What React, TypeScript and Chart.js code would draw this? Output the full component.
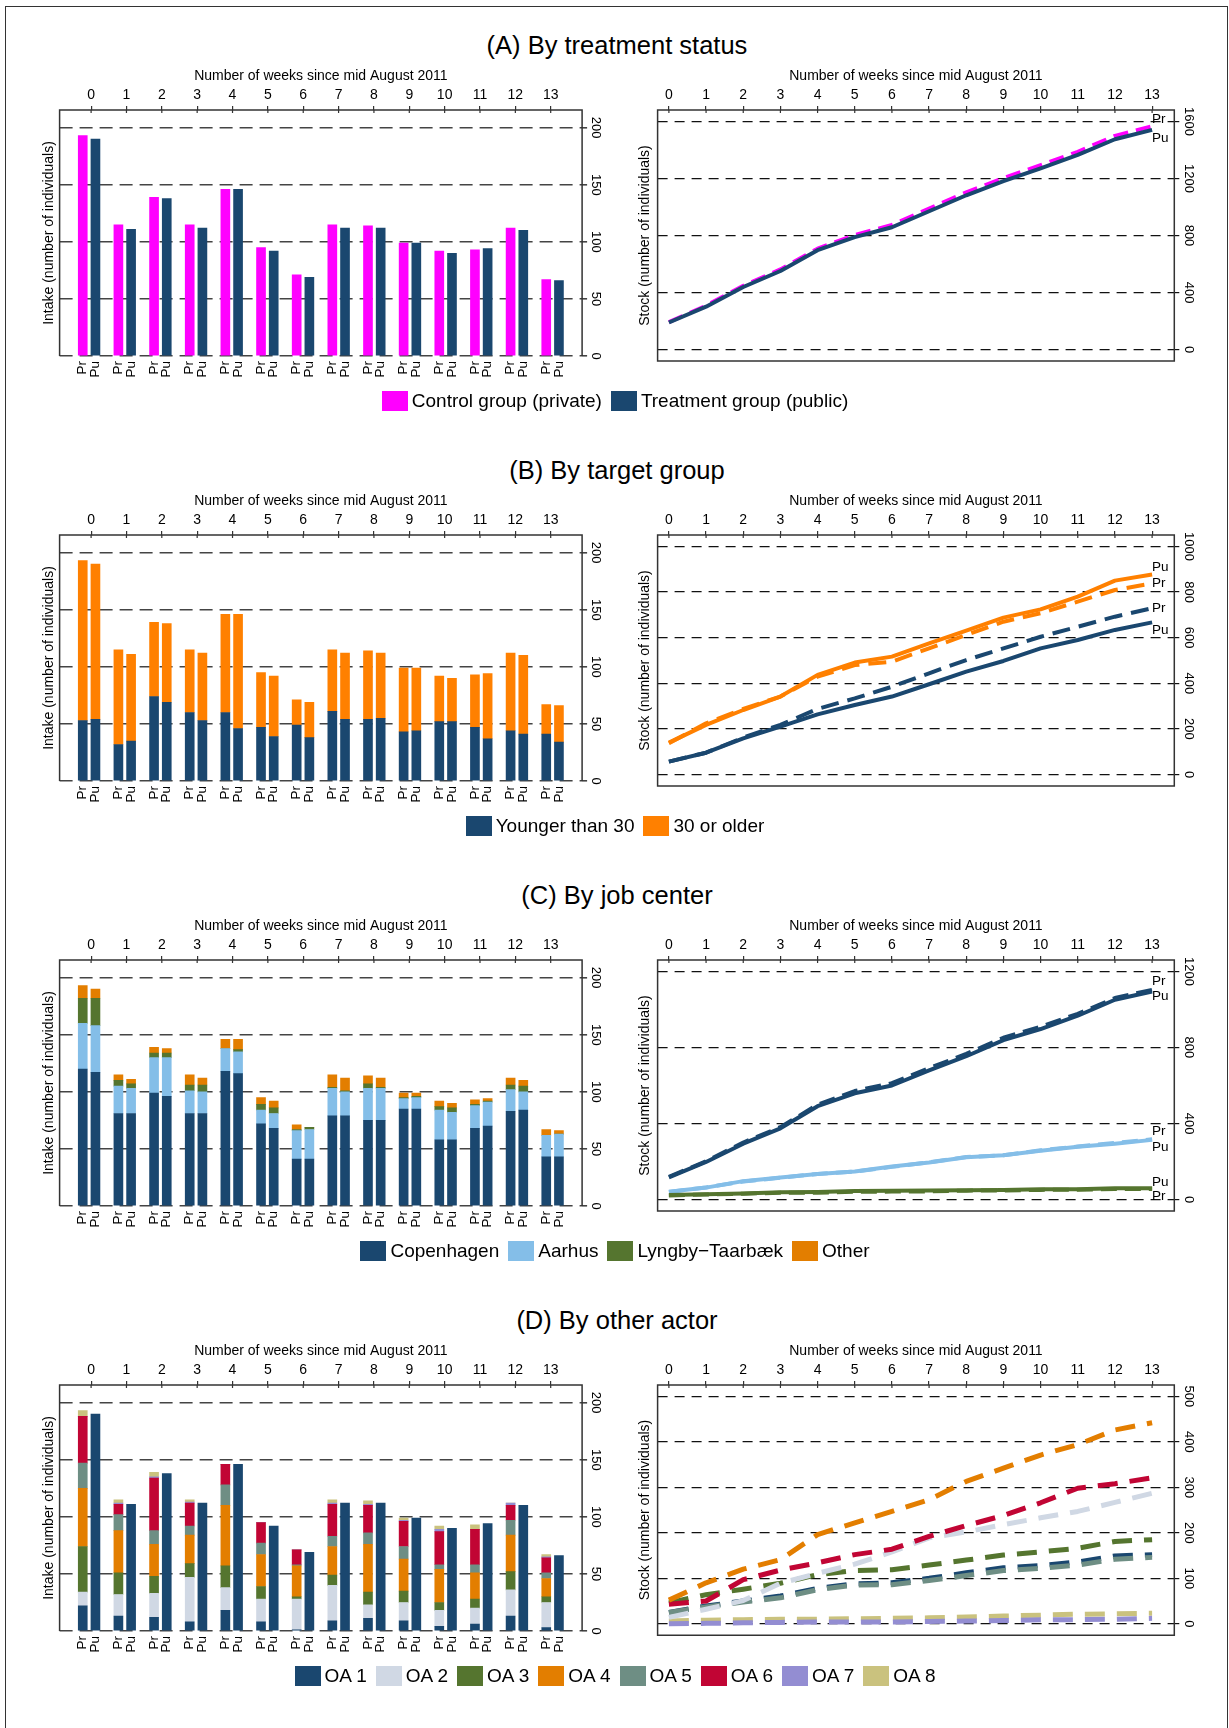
import React, { useEffect, useRef } from 'react';
import { Chart, registerables } from 'chart.js';

Chart.register(...registerables);

const FONT = "'Liberation Sans', Arial, Helvetica, sans-serif";
Chart.defaults.font.family = FONT;
Chart.defaults.color = '#000';

// ---------------- shared axis data ----------------
const WEEKS = [0, 1, 2, 3, 4, 5, 6, 7, 8, 9, 10, 11, 12, 13];
const GROUP_TICK_LABELS = ['Pr', 'Pu'];
const WEEK_AXIS_TITLE = 'Number of weeks since mid August 2011';
const INTAKE_AXIS_TITLE = 'Intake (number of individuals)';
const STOCK_AXIS_TITLE = 'Stock (number of individuals)';
const INTAKE_TICKS = [0, 50, 100, 150, 200];

// ---------------- colours ----------------
const MAGENTA = '#ff00ff';
const NAVY = '#1a476f';
const ORANGE = '#ff8000';
const LIGHT_BLUE = '#84bee8';
const GREEN = '#55752f';
const DK_ORANGE = '#e37e00';
const OA_COLORS = ['#1a476f', '#d0d8e4', '#55752f', '#e37e00', '#6e8e84', '#c10534', '#938dd2', '#cac27e'];

// ---------------- (A) by treatment status ----------------
const A_TITLE = '(A) By treatment status';
const A_LABELS = ['Control group (private)', 'Treatment group (public)'];
const A_INTAKE_PR = [193, 115, 139, 115, 146, 95, 71, 115, 114, 99, 92, 93, 112, 67];
const A_INTAKE_PU = [190, 111, 138, 112, 146, 92, 69, 112, 112, 99, 90, 94, 110, 66];
const A_STOCK_PR = [193, 308, 447, 562, 708, 803, 874, 989, 1103, 1202, 1294, 1387, 1499, 1566];
const A_STOCK_PU = [190, 301, 439, 551, 697, 789, 858, 970, 1082, 1181, 1271, 1365, 1475, 1541];
const A_STOCK_TICKS = [0, 400, 800, 1200, 1600];

// ---------------- (B) by target group ----------------
const B_TITLE = '(B) By target group';
const B_LABELS = ['Younger than 30', '30 or older'];
const B_YOUNG_PR = [53, 32, 74, 60, 60, 47, 49, 61, 54, 43, 52, 47, 44, 41];
const B_OLD_PR = [140, 83, 65, 55, 86, 48, 22, 54, 60, 56, 40, 46, 68, 26];
const B_YOUNG_PU = [54, 35, 69, 53, 46, 39, 38, 54, 55, 44, 52, 37, 41, 34];
const B_OLD_PU = [136, 76, 69, 59, 100, 53, 31, 58, 57, 55, 38, 57, 69, 32];
const B_STOCK_YOUNG_PR = [57, 96, 162, 218, 288, 334, 385, 444, 502, 553, 604, 648, 692, 729];
const B_STOCK_YOUNG_PU = [57, 96, 159, 210, 264, 305, 342, 396, 451, 498, 553, 590, 634, 667];
const B_STOCK_OLD_PR = [137, 225, 288, 342, 429, 480, 495, 553, 612, 670, 707, 758, 809, 838];
const B_STOCK_OLD_PU = [140, 218, 283, 342, 437, 491, 517, 575, 631, 688, 724, 780, 850, 877];
const B_STOCK_TICKS = [0, 200, 400, 600, 800, 1000];

// ---------------- (C) by job center ----------------
const C_TITLE = '(C) By job center';
const C_LABELS = ['Copenhagen', 'Aarhus', 'Lyngby\u2212Taarb\u00e6k', 'Other'];
const C_CPH_PR = [120, 81, 99, 81, 118, 72, 41, 79, 75, 85, 58, 68, 83, 43];
const C_AAR_PR = [40, 24, 31, 20, 20, 12, 25, 24, 28, 9, 26, 20, 19, 19];
const C_LYN_PR = [22, 5, 4, 5, 0, 5, 1, 1, 4, 1, 3, 1, 4, 0];
const C_OTH_PR = [11, 5, 5, 9, 8, 6, 4, 11, 7, 4, 5, 4, 6, 5];
const C_CPH_PU = [117, 81, 96, 81, 116, 68, 41, 79, 75, 85, 58, 70, 84, 43];
const C_AAR_PU = [41, 22, 34, 19, 19, 13, 26, 21, 28, 10, 24, 21, 16, 20];
const C_LYN_PU = [24, 4, 4, 6, 2, 5, 2, 1, 1, 1, 4, 1, 5, 0];
const C_OTH_PU = [8, 4, 4, 6, 9, 6, 0, 11, 8, 3, 4, 2, 5, 3];
const C_STOCK_CPH_PR = [120, 201, 300, 381, 499, 571, 612, 691, 766, 851, 909, 977, 1060, 1103];
const C_STOCK_CPH_PU = [117, 198, 294, 375, 491, 559, 600, 679, 754, 839, 897, 967, 1051, 1094];
const C_STOCK_AAR_PR = [40, 64, 95, 115, 135, 147, 172, 196, 224, 233, 259, 279, 298, 317];
const C_STOCK_AAR_PU = [41, 63, 97, 116, 135, 148, 174, 195, 223, 233, 257, 278, 294, 314];
const C_STOCK_LYN_PR = [22, 27, 31, 36, 36, 41, 42, 43, 47, 48, 51, 52, 56, 56];
const C_STOCK_LYN_PU = [24, 28, 32, 38, 40, 45, 47, 48, 49, 50, 54, 55, 60, 60];
const C_STOCK_TICKS = [0, 400, 800, 1200];

// ---------------- (D) by other actor ----------------
const D_TITLE = '(D) By other actor';
const D_LABELS = ['OA 1', 'OA 2', 'OA 3', 'OA 4', 'OA 5', 'OA 6', 'OA 7', 'OA 8'];
const D_OA1_PR = [22, 13, 12, 8, 18, 8, 1, 9, 11, 9, 4, 6, 13, 3];
const D_OA2_PR = [12, 19, 21, 39, 20, 20, 27, 31, 12, 16, 14, 14, 23, 22];
const D_OA3_PR = [40, 19, 15, 12, 19, 11, 2, 9, 11, 10, 7, 8, 16, 5];
const D_OA4_PR = [51, 37, 28, 25, 53, 28, 27, 25, 42, 28, 29, 23, 32, 16];
const D_OA5_PR = [22, 14, 12, 8, 18, 10, 1, 9, 10, 11, 4, 7, 13, 5];
const D_OA6_PR = [41, 9, 46, 20, 18, 18, 13, 28, 24, 22, 29, 31, 13, 13];
const D_OA7_PR = [0, 1, 1, 1, 0, 0, 0, 1, 1, 1, 2, 0, 2, 1];
const D_OA8_PR = [5, 3, 4, 2, 0, 0, 0, 3, 3, 2, 3, 4, 0, 2];
const D_OA1_PU = [190, 111, 138, 112, 146, 92, 69, 112, 112, 99, 90, 94, 110, 66];
const D_STOCK_OA1 = [25, 39, 50, 61, 78, 88, 90, 100, 112, 123, 128, 136, 149, 152];
const D_STOCK_OA2 = [14, 32, 51, 89, 111, 131, 158, 189, 202, 218, 233, 247, 267, 287];
const D_STOCK_OA3 = [46, 64, 76, 89, 108, 117, 119, 129, 140, 151, 158, 166, 181, 185];
const D_STOCK_OA4 = [52, 90, 120, 141, 196, 222, 247, 273, 313, 342, 371, 394, 426, 442];
const D_STOCK_OA5 = [25, 37, 48, 57, 75, 85, 86, 95, 106, 117, 122, 129, 142, 146];
const D_STOCK_OA6 = [43, 50, 97, 118, 134, 152, 164, 192, 216, 238, 266, 298, 308, 321];
const D_STOCK_OA7 = [0, 1, 2, 3, 4, 4, 4, 5, 6, 7, 9, 9, 10, 12];
const D_STOCK_OA8 = [6, 8, 9, 10, 10, 11, 12, 13, 15, 17, 19, 21, 22, 23];
const D_STOCK_TICKS = [0, 100, 200, 300, 400, 500];

// ---------------- geometry / style ----------------
const ROW_STEP = 425;
const CANVAS_TOP = 60;
const BAR_CANVAS = { x: 10, w: 605, h: 330 };
const LINE_CANVAS = { x: 615, w: 614, h: 306 };
const PAIR_OFFSET = 0.178;
const BAR_WIDTH = 9;

const measureCtx = document.createElement('canvas').getContext('2d') as CanvasRenderingContext2D;
function textWidth(s: string, size: number) {
  measureCtx.font = `${size}px ${FONT}`;
  return measureCtx.measureText(s).width;
}

function framePlugin(topAxisId: string, closeBottom: boolean) {
  return {
    id: 'frame',
    afterDatasetsDraw(chart: any) {
      const { ctx, chartArea } = chart;
      const { left, right, top, bottom } = chartArea;
      ctx.save();
      ctx.setLineDash([]);
      ctx.strokeStyle = '#333';
      ctx.lineWidth = 1.5;
      ctx.beginPath();
      ctx.moveTo(left, bottom);
      ctx.lineTo(left, top);
      ctx.lineTo(right, top);
      ctx.lineTo(right, bottom);
      if (closeBottom) ctx.closePath();
      ctx.stroke();
      const scale = chart.scales[topAxisId];
      ctx.lineWidth = 1.2;
      ctx.beginPath();
      scale.ticks.forEach((t: any) => {
        const x = scale.getPixelForValue(t.value);
        ctx.moveTo(x, top);
        ctx.lineTo(x, top + 3);
      });
      ctx.stroke();
      ctx.restore();
    },
  };
}

function endLabelPlugin(labels: { index: number; text: string; dy: number }[]) {
  return {
    id: 'endLabels',
    afterDatasetsDraw(chart: any) {
      const ctx = chart.ctx;
      ctx.save();
      ctx.font = `13.5px ${FONT}`;
      ctx.fillStyle = '#000';
      ctx.textAlign = 'left';
      ctx.textBaseline = 'middle';
      labels.forEach((l) => {
        const meta = chart.getDatasetMeta(l.index);
        const pt = meta.data[meta.data.length - 1];
        if (pt) ctx.fillText(l.text, pt.x, pt.y + l.dy);
      });
      ctx.restore();
    },
  };
}

function weekAxis(min: number, max: number) {
  return {
    type: 'linear',
    axis: 'x',
    position: 'top',
    min,
    max,
    offset: false,
    afterBuildTicks: (s: any) => {
      s.ticks = WEEKS.map((v) => ({ value: v }));
    },
    ticks: {
      font: { size: 14 },
      color: '#000',
      padding: 2.6,
      autoSkip: false,
      minRotation: 0,
      maxRotation: 0,
      callback: (v: any) => String(v),
    },
    grid: { display: true, offset: false, drawOnChartArea: false, drawTicks: true, tickLength: 4, color: '#333', lineWidth: 1.2 },
    border: { display: false },
    title: { display: true, text: WEEK_AXIS_TITLE, font: { size: 14 }, color: '#000', padding: { top: 7.6, bottom: 0 } },
    afterFit: (s: any) => {
      s.height = 50;
    },
  };
}

function titleAxis(text: string, widthPx: number, centerX: number) {
  return {
    type: 'linear',
    axis: 'y',
    position: 'left',
    ticks: { display: false },
    grid: { display: false, drawTicks: false },
    border: { display: false },
    title: { display: true, text, font: { size: 14 }, color: '#000', padding: { top: centerX - 8.4, bottom: 0 } },
    afterFit: (s: any) => {
      s.width = widthPx;
    },
  };
}

function valueAxis(
  min: number,
  max: number,
  ticks: number[],
  stacked: boolean,
  widthPx: number,
  labelOffset: number,
  grid: { color: string; lineWidth: number; dash: number[] }
) {
  const widest = Math.max(...ticks.map((t) => textWidth(String(t), 13)));
  return {
    type: 'linear',
    axis: 'y',
    position: 'right',
    min,
    max,
    stacked,
    afterBuildTicks: (s: any) => {
      s.ticks = ticks.map((v) => ({ value: v }));
    },
    ticks: {
      font: { size: 13 },
      color: '#000',
      minRotation: -90,
      maxRotation: -90,
      crossAlign: 'center',
      autoSkip: false,
      padding: labelOffset - 5 - widest / 2,
      callback: (v: any) => String(v),
    },
    grid: {
      display: true,
      drawOnChartArea: true,
      drawTicks: true,
      tickLength: 5,
      color: grid.color,
      lineWidth: grid.lineWidth,
      tickColor: grid.color,
      tickWidth: grid.lineWidth,
    },
    border: { display: false, dash: grid.dash },
    afterFit: (s: any) => {
      s.width = widthPx;
    },
  };
}

interface BarSeries {
  label: string;
  color: string;
  pr: number[] | null;
  pu: number[] | null;
}

function makeBarConfig(series: BarSeries[], stacked: boolean) {
  const datasets = series.map((s) => {
    const data: { x: number; y: number }[] = [];
    WEEKS.forEach((w, i) => {
      if (s.pr) data.push({ x: w - PAIR_OFFSET, y: s.pr[i] });
      if (s.pu) data.push({ x: w + PAIR_OFFSET, y: s.pu[i] });
    });
    return {
      type: 'bar',
      label: s.label,
      data,
      backgroundColor: s.color,
      borderWidth: 0,
      barThickness: BAR_WIDTH,
      grouped: false,
      xAxisID: 'x',
      yAxisID: 'y',
    };
  });
  const groupPositions = WEEKS.flatMap((w) => [w - PAIR_OFFSET, w + PAIR_OFFSET]);
  const chartLeft = 59.6 - BAR_CANVAS.x;
  const chartRight = 582.1 - BAR_CANVAS.x;
  return {
    type: 'bar',
    data: { datasets },
    options: {
      animation: false,
      responsive: false,
      layout: { padding: 0 },
      plugins: { legend: { display: false }, tooltip: { enabled: false } },
      scales: {
        x: {
          type: 'linear',
          axis: 'x',
          position: 'bottom',
          min: -0.8275,
          max: 13.8275,
          offset: false,
          afterBuildTicks: (s: any) => {
            s.ticks = groupPositions.map((v) => ({ value: v }));
          },
          ticks: {
            autoSkip: false,
            minRotation: 90,
            maxRotation: 90,
            padding: 5,
            font: { size: 13.5 },
            color: '#000',
            callback: (_v: any, i: number) => GROUP_TICK_LABELS[i % 2],
          },
          grid: { display: false, drawTicks: false, offset: false },
          border: { display: false },
          afterFit: (s: any) => {
            s.height = 34;
          },
        },
        xTop: weekAxis(-0.891, 13.888),
        y: valueAxis(0, 215.5, INTAKE_TICKS, stacked, BAR_CANVAS.w - chartRight, 13.3, {
          color: '#444',
          lineWidth: 1.6,
          dash: [13, 7],
        }),
        yL: titleAxis(INTAKE_AXIS_TITLE, chartLeft, 48.9 - BAR_CANVAS.x),
      },
    },
    plugins: [framePlugin('xTop', false)],
  };
}

interface LineSeries {
  values: number[];
  color: string;
  dashed: boolean;
  text?: string;
  dy?: number;
}

function makeLineConfig(
  series: LineSeries[],
  min: number,
  max: number,
  ticks: number[],
  width: number,
  dash: number[]
) {
  const n = series.length;
  const datasets = series.map((s, idx) => ({
    type: 'line',
    data: WEEKS.map((w, i) => ({ x: w, y: s.values[i] })),
    borderColor: s.color,
    backgroundColor: s.color,
    borderWidth: width,
    borderDash: s.dashed ? dash : [],
    borderCapStyle: 'butt',
    borderJoinStyle: 'round',
    pointRadius: 0,
    fill: false,
    tension: 0,
    order: n - idx,
    xAxisID: 'x',
    yAxisID: 'y',
  }));
  const labels = series
    .map((s, idx) => ({ index: idx, text: s.text || '', dy: s.dy || 0 }))
    .filter((l) => l.text);
  const chartLeft = 657.6 - LINE_CANVAS.x;
  const chartRight = 1174.3 - LINE_CANVAS.x;
  return {
    type: 'line',
    data: { datasets },
    options: {
      animation: false,
      responsive: false,
      layout: { padding: { left: 0, right: 0, top: 0, bottom: 5 } },
      plugins: { legend: { display: false }, tooltip: { enabled: false } },
      scales: {
        x: weekAxis(-0.304, 13.597),
        y: valueAxis(min, max, ticks, false, LINE_CANVAS.w - chartRight, 13.9, {
          color: '#111',
          lineWidth: 1.2,
          dash: [10, 7],
        }),
        yL: titleAxis(STOCK_AXIS_TITLE, chartLeft, 645.6 - LINE_CANVAS.x),
      },
    },
    plugins: [framePlugin('x', true), endLabelPlugin(labels)],
  };
}

// ---------------- rows ----------------
const ROWS = [
  {
    title: A_TITLE,
    legend: [
      { label: A_LABELS[0], color: MAGENTA },
      { label: A_LABELS[1], color: NAVY },
    ],
    bar: () =>
      makeBarConfig(
        [
          { label: A_LABELS[0], color: MAGENTA, pr: A_INTAKE_PR, pu: null },
          { label: A_LABELS[1], color: NAVY, pr: null, pu: A_INTAKE_PU },
        ],
        false
      ),
    line: () =>
      makeLineConfig(
        [
          { values: A_STOCK_PR, color: MAGENTA, dashed: true, text: 'Pr', dy: -6.6 },
          { values: A_STOCK_PU, color: NAVY, dashed: false, text: 'Pu', dy: 8.3 },
        ],
        -80,
        1680,
        A_STOCK_TICKS,
        4,
        [15, 8]
      ),
  },
  {
    title: B_TITLE,
    legend: [
      { label: B_LABELS[0], color: NAVY },
      { label: B_LABELS[1], color: ORANGE },
    ],
    bar: () =>
      makeBarConfig(
        [
          { label: B_LABELS[0], color: NAVY, pr: B_YOUNG_PR, pu: B_YOUNG_PU },
          { label: B_LABELS[1], color: ORANGE, pr: B_OLD_PR, pu: B_OLD_PU },
        ],
        true
      ),
    line: () =>
      makeLineConfig(
        [
          { values: B_STOCK_OLD_PR, color: ORANGE, dashed: true, text: 'Pr', dy: 0 },
          { values: B_STOCK_OLD_PU, color: ORANGE, dashed: false, text: 'Pu', dy: -7.1 },
          { values: B_STOCK_YOUNG_PR, color: NAVY, dashed: true, text: 'Pr', dy: 0 },
          { values: B_STOCK_YOUNG_PU, color: NAVY, dashed: false, text: 'Pu', dy: 7.9 },
        ],
        -50,
        1050,
        B_STOCK_TICKS,
        4,
        [18, 9]
      ),
  },
  {
    title: C_TITLE,
    legend: [
      { label: C_LABELS[0], color: NAVY },
      { label: C_LABELS[1], color: LIGHT_BLUE },
      { label: C_LABELS[2], color: GREEN },
      { label: C_LABELS[3], color: DK_ORANGE },
    ],
    bar: () =>
      makeBarConfig(
        [
          { label: C_LABELS[0], color: NAVY, pr: C_CPH_PR, pu: C_CPH_PU },
          { label: C_LABELS[1], color: LIGHT_BLUE, pr: C_AAR_PR, pu: C_AAR_PU },
          { label: C_LABELS[2], color: GREEN, pr: C_LYN_PR, pu: C_LYN_PU },
          { label: C_LABELS[3], color: DK_ORANGE, pr: C_OTH_PR, pu: C_OTH_PU },
        ],
        true
      ),
    line: () =>
      makeLineConfig(
        [
          { values: C_STOCK_CPH_PU, color: NAVY, dashed: false, text: 'Pu', dy: 5 },
          { values: C_STOCK_CPH_PR, color: NAVY, dashed: true, text: 'Pr', dy: -8.5 },
          { values: C_STOCK_AAR_PU, color: LIGHT_BLUE, dashed: false, text: 'Pu', dy: 7.4 },
          { values: C_STOCK_AAR_PR, color: LIGHT_BLUE, dashed: true, text: 'Pr', dy: -7.6 },
          { values: C_STOCK_LYN_PU, color: GREEN, dashed: false, text: 'Pu', dy: -5.6 },
          { values: C_STOCK_LYN_PR, color: GREEN, dashed: true, text: 'Pr', dy: 7 },
        ],
        -60,
        1260,
        C_STOCK_TICKS,
        4,
        [16, 8]
      ),
  },
  {
    title: D_TITLE,
    legend: D_LABELS.map((l, i) => ({ label: l, color: OA_COLORS[i] })),
    bar: () =>
      makeBarConfig(
        [
          { label: D_LABELS[0], color: OA_COLORS[0], pr: D_OA1_PR, pu: D_OA1_PU },
          { label: D_LABELS[1], color: OA_COLORS[1], pr: D_OA2_PR, pu: null },
          { label: D_LABELS[2], color: OA_COLORS[2], pr: D_OA3_PR, pu: null },
          { label: D_LABELS[3], color: OA_COLORS[3], pr: D_OA4_PR, pu: null },
          { label: D_LABELS[4], color: OA_COLORS[4], pr: D_OA5_PR, pu: null },
          { label: D_LABELS[5], color: OA_COLORS[5], pr: D_OA6_PR, pu: null },
          { label: D_LABELS[6], color: OA_COLORS[6], pr: D_OA7_PR, pu: null },
          { label: D_LABELS[7], color: OA_COLORS[7], pr: D_OA8_PR, pu: null },
        ],
        true
      ),
    line: () =>
      makeLineConfig(
        [
          { values: D_STOCK_OA8, color: OA_COLORS[7], dashed: true },
          { values: D_STOCK_OA7, color: OA_COLORS[6], dashed: true },
          { values: D_STOCK_OA1, color: OA_COLORS[0], dashed: true },
          { values: D_STOCK_OA5, color: OA_COLORS[4], dashed: true },
          { values: D_STOCK_OA3, color: OA_COLORS[2], dashed: true },
          { values: D_STOCK_OA2, color: OA_COLORS[1], dashed: true },
          { values: D_STOCK_OA6, color: OA_COLORS[5], dashed: true },
          { values: D_STOCK_OA4, color: OA_COLORS[3], dashed: true },
        ],
        -25,
        525,
        D_STOCK_TICKS,
        5,
        [20, 12]
      ),
  },
];

function ChartCanvas(props: { make: () => any; left: number; top: number; width: number; height: number }) {
  const ref = useRef<HTMLCanvasElement>(null);
  useEffect(() => {
    const chart = new Chart(ref.current as HTMLCanvasElement, props.make());
    return () => chart.destroy();
  }, []);
  return (
    <canvas
      ref={ref}
      width={props.width}
      height={props.height}
      style={{ position: 'absolute', left: props.left, top: props.top, width: props.width, height: props.height }}
    />
  );
}

function Legend(props: { items: { label: string; color: string }[]; top: number }) {
  return (
    <div
      style={{
        position: 'absolute',
        left: 0,
        width: 1230,
        top: props.top,
        height: 24,
        display: 'flex',
        justifyContent: 'center',
        alignItems: 'center',
      }}
    >
      {props.items.map((it, i) => (
        <div key={i} style={{ display: 'flex', alignItems: 'center', marginLeft: i ? 9 : 0 }}>
          <span style={{ width: 26, height: 20, background: it.color, display: 'inline-block', marginRight: 4 }} />
          <span style={{ fontSize: 19, color: '#000', lineHeight: '20px', whiteSpace: 'nowrap' }}>{it.label}</span>
        </div>
      ))}
    </div>
  );
}

export default function App() {
  return (
    <div
      style={{
        position: 'absolute',
        left: 0,
        top: 0,
        width: 1229,
        height: 1728,
        background: '#fff',
        overflow: 'hidden',
        fontFamily: FONT,
      }}
    >
      <div
        style={{
          position: 'absolute',
          left: 5,
          top: 6,
          width: 1223,
          height: 1760,
          borderLeft: '1.5px solid #333',
          borderTop: '1.5px solid #333',
          borderRight: '1.5px solid #333',
          boxSizing: 'border-box',
        }}
      />
      {ROWS.map((row, r) => (
        <React.Fragment key={r}>
          <div
            style={{
              position: 'absolute',
              left: 0,
              width: 1234,
              top: 29 + r * ROW_STEP,
              height: 32,
              lineHeight: '32px',
              fontSize: 25.5,
              textAlign: 'center',
              color: '#000',
            }}
          >
            {row.title}
          </div>
          <ChartCanvas
            make={row.bar}
            left={BAR_CANVAS.x}
            top={CANVAS_TOP + r * ROW_STEP}
            width={BAR_CANVAS.w}
            height={BAR_CANVAS.h}
          />
          <ChartCanvas
            make={row.line}
            left={LINE_CANVAS.x}
            top={CANVAS_TOP + r * ROW_STEP}
            width={LINE_CANVAS.w}
            height={LINE_CANVAS.h}
          />
          <Legend items={row.legend} top={389 + r * ROW_STEP} />
        </React.Fragment>
      ))}
    </div>
  );
}
